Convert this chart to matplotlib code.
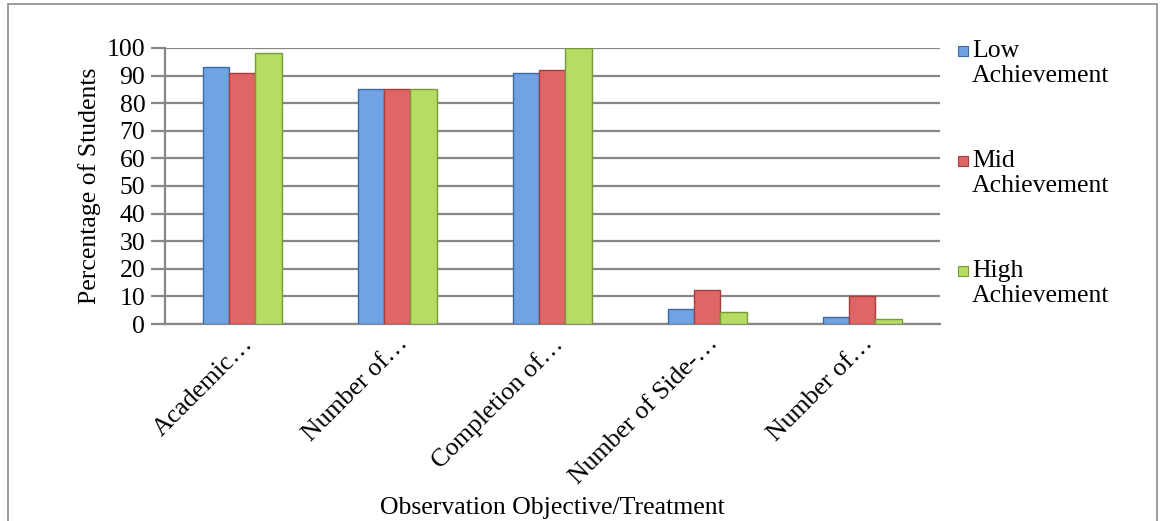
import matplotlib.pyplot as plt
import matplotlib.patches as mpatches
import numpy as np

# Data
categories = ['Academic…', 'Number of…', 'Completion of…', 'Number of Side-…', 'Number of…']
series = ['Low\nAchievement', 'Mid\nAchievement', 'High\nAchievement']
low = [93, 85, 91, 5.5, 2.5]
mid = [91, 85, 92, 12.5, 10]
high = [98, 85, 100, 4.5, 2]

face_colors = ['#6fa3e3', '#e06666', '#b5dd63']
edge_colors = ['#3a6aa8', '#a83d3d', '#7a9a3a']

plt.rcParams['font.family'] = ['Liberation Serif', 'DejaVu Serif']

fig = plt.figure(figsize=(11.6, 5.21), dpi=100)
ax = fig.add_axes([0.142, 0.378, 0.668, 0.53])

x = np.arange(len(categories))
bar_width = 0.17
for i, vals in enumerate([low, mid, high]):
    ax.bar(x + (i - 1) * bar_width, vals, width=bar_width,
           color=face_colors[i], edgecolor=edge_colors[i], linewidth=1, zorder=3)

ax.set_xlim(-0.5, len(categories) - 0.5)
ax.set_ylim(0, 100)
ax.set_yticks(np.arange(0, 101, 10))
ax.yaxis.grid(True, color='#878787', linewidth=1.6, zorder=0)
ax.set_axisbelow(True)

for side in ['top', 'right']:
    ax.spines[side].set_visible(False)
for side in ['left', 'bottom']:
    ax.spines[side].set_color('#878787')
    ax.spines[side].set_linewidth(1.6)

ax.tick_params(axis='y', length=10, width=1.6, color='#878787', labelsize=18.5, pad=4)
ax.tick_params(axis='x', length=0, labelsize=18.5, pad=6)
ax.set_xticks(x)
ax.set_xticklabels(categories, rotation=45, ha='right', rotation_mode='anchor')

ax.set_ylabel('Percentage of Students', fontsize=18.5, labelpad=4)
ax.set_xlabel('Observation Objective/Treatment', fontsize=18.5, labelpad=6)

# Legend on the right
legend_top = [0.923, 0.712, 0.501]
for i, name in enumerate(series):
    fig.patches.append(mpatches.Rectangle((0.826, legend_top[i] - 0.031), 0.0085, 0.019,
                                          transform=fig.transFigure, facecolor=face_colors[i],
                                          edgecolor=edge_colors[i], linewidth=0.8))
    fig.text(0.838, legend_top[i], name, fontsize=18.5, va='top', ha='left',
             linespacing=1.15)

# Outer border
fig.patches.append(mpatches.Rectangle((0.007, -0.01), 0.99, 1.002, transform=fig.transFigure,
                                      fill=False, edgecolor='#8c8c8c', linewidth=1.2))

fig.savefig('out.png', dpi=100)
